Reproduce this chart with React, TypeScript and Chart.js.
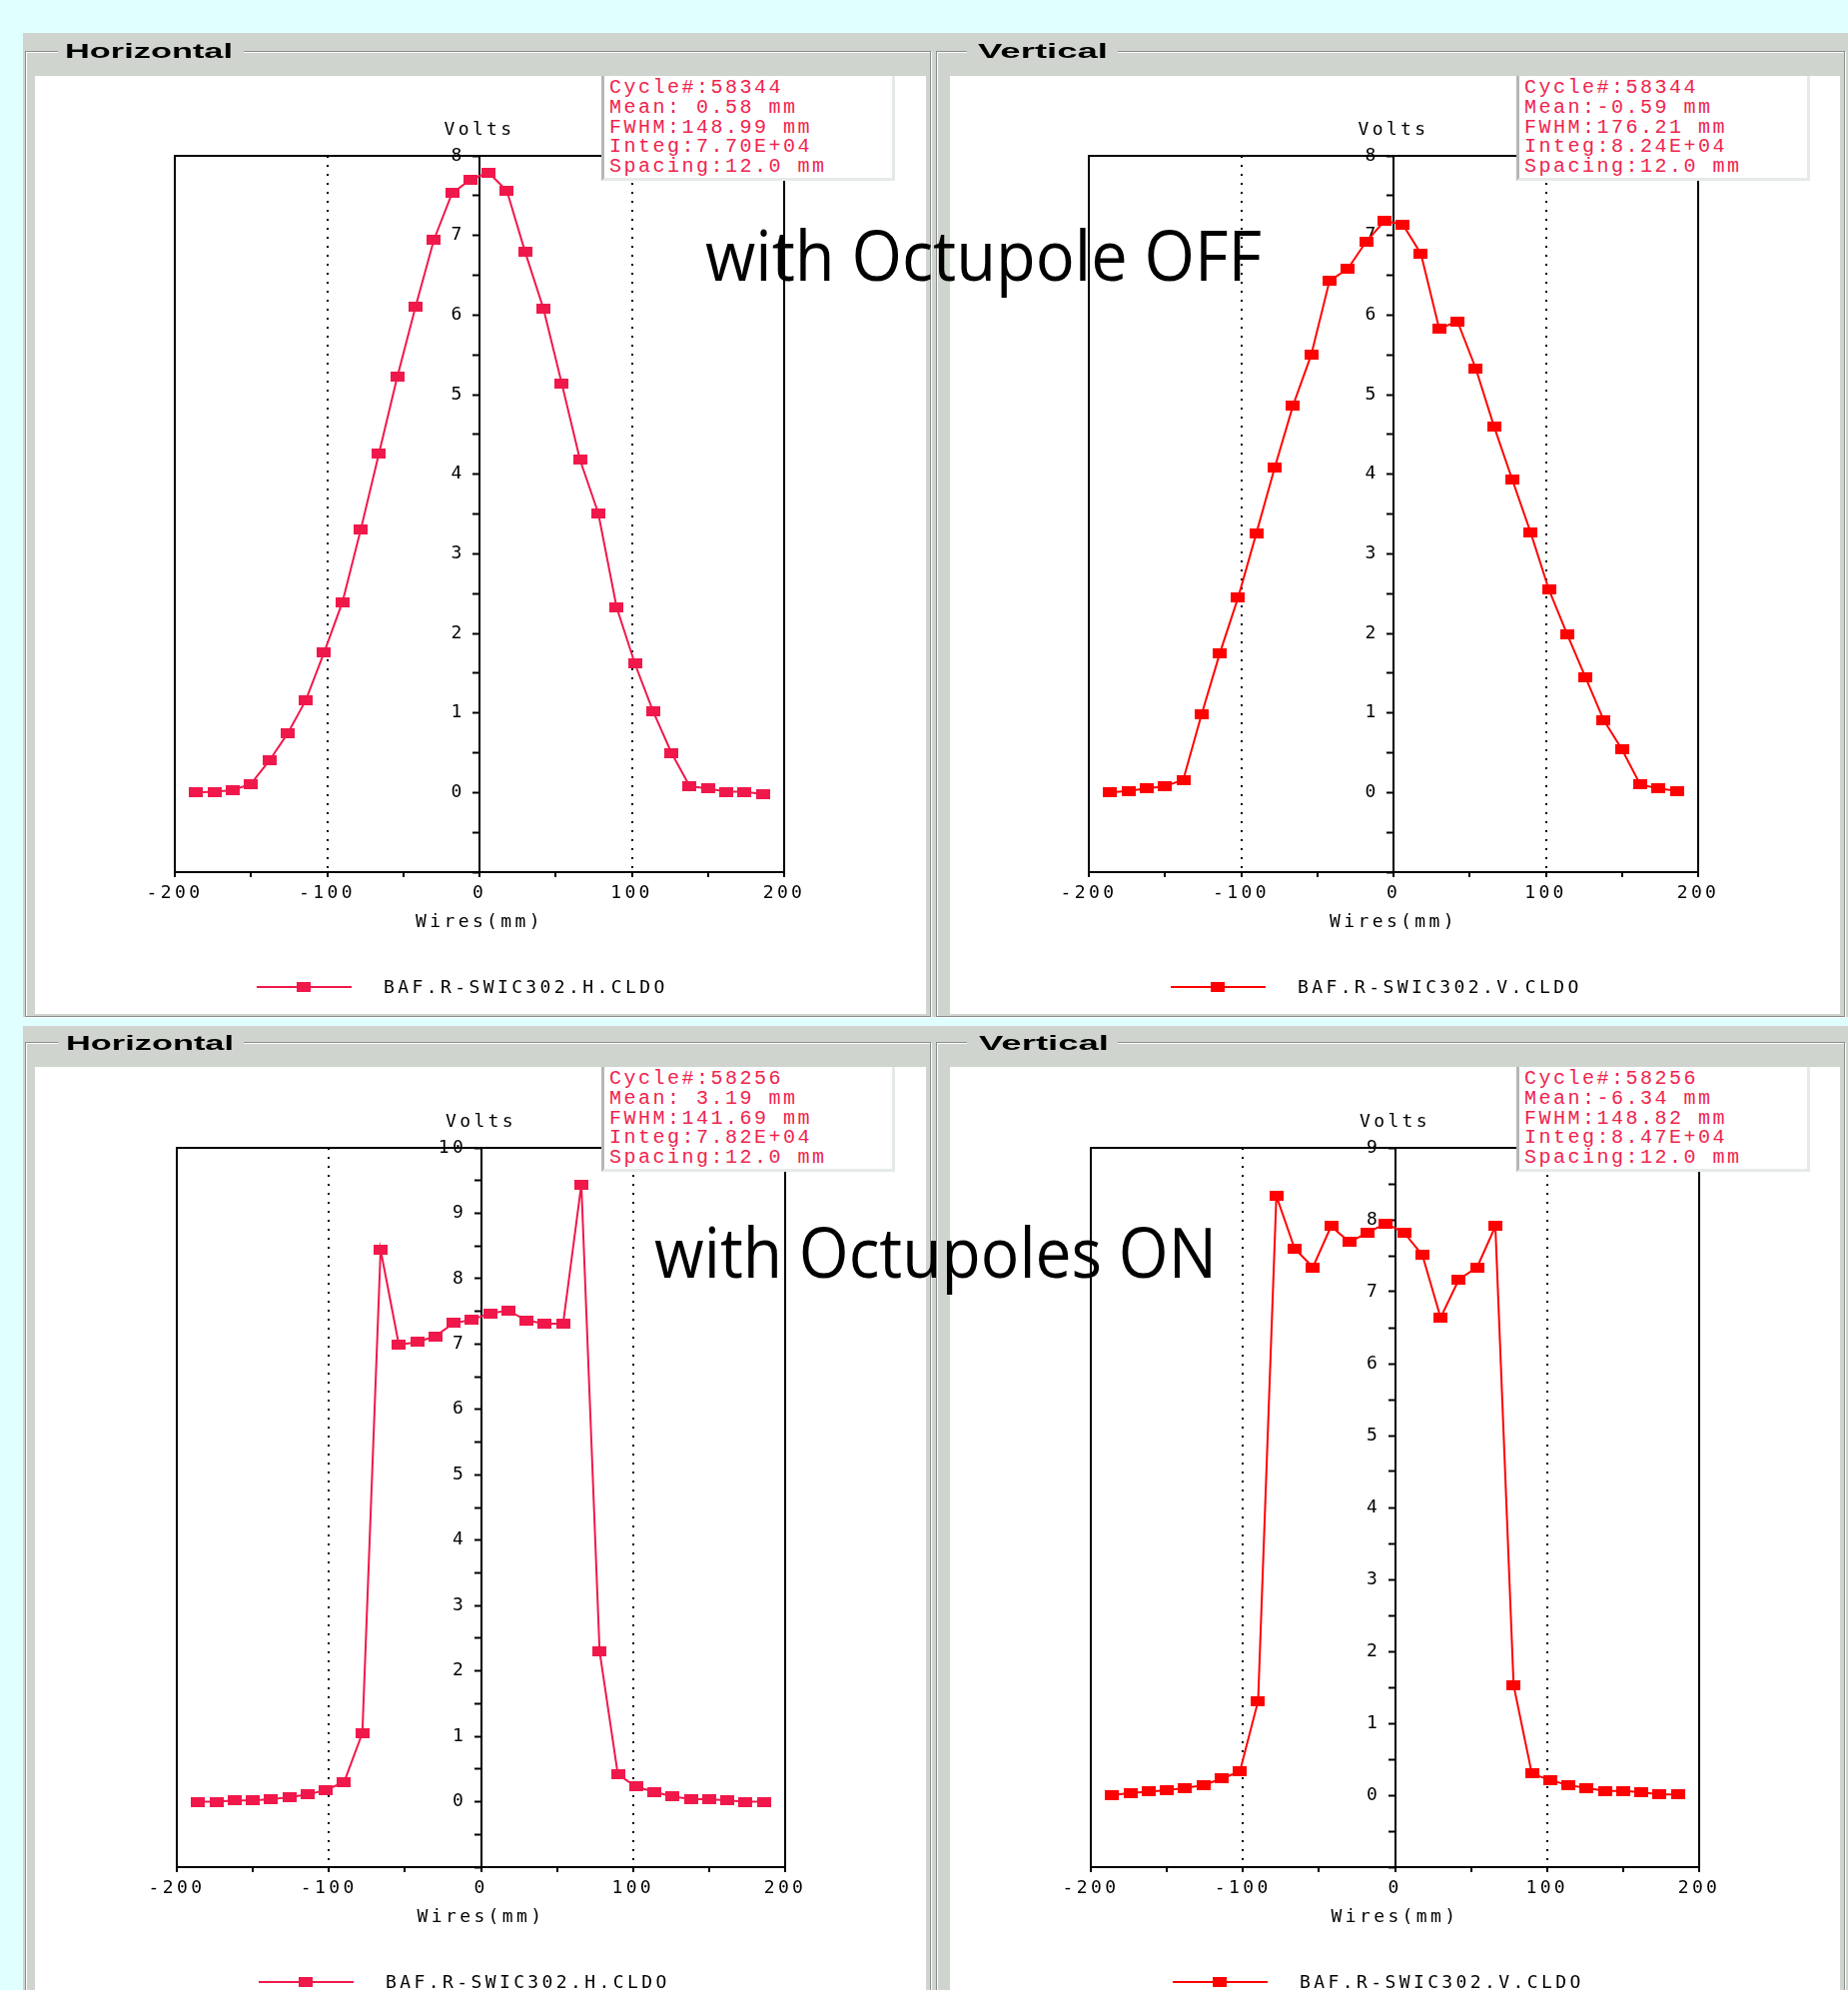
import React, { useEffect, useRef } from 'react';
import { Chart, registerables } from 'chart.js';

Chart.register(...registerables);

// ---------- data ----------
const WIRE_POS = [
  -186, -174, -162, -150, -138, -126, -114, -102, -90, -78, -66, -54, -42, -30, -18, -6,
  6, 18, 30, 42, 54, 66, 78, 90, 102, 114, 126, 138, 150, 162, 174, 186,
];

const H_OFF = [
  0.0, 0.01, 0.03, 0.11, 0.4, 0.74, 1.16, 1.76, 2.39, 3.3, 4.26, 5.22, 6.1, 6.94, 7.53, 7.7,
  7.79, 7.56, 6.79, 6.08, 5.14, 4.18, 3.51, 2.33, 1.62, 1.02, 0.5, 0.08, 0.05, 0.01, 0.01, -0.02,
];
const V_OFF = [
  0.0, 0.02, 0.05, 0.08, 0.16, 0.98, 1.75, 2.45, 3.26, 4.08, 4.86, 5.5, 6.43, 6.58, 6.92, 7.18,
  7.14, 6.77, 5.83, 5.92, 5.33, 4.6, 3.93, 3.27, 2.55, 1.99, 1.45, 0.91, 0.54, 0.1, 0.05, 0.02,
];
const H_ON = [
  0.0, 0.0, 0.02, 0.02, 0.04, 0.07, 0.11, 0.18, 0.3, 1.05, 8.44, 6.99, 7.03, 7.12, 7.32, 7.37,
  7.47, 7.51, 7.36, 7.31, 7.31, 9.44, 2.3, 0.42, 0.23, 0.15, 0.08, 0.04, 0.04, 0.02, 0.0, 0.0,
];
const V_ON = [
  0.0, 0.03, 0.05, 0.07, 0.1, 0.14, 0.23, 0.33, 1.31, 8.33, 7.6, 7.34, 7.91, 7.69, 7.82, 7.95,
  7.82, 7.51, 6.64, 7.17, 7.34, 7.91, 1.53, 0.3, 0.21, 0.14, 0.1, 0.06, 0.06, 0.04, 0.01, 0.01,
];

const X_MIN = -200;
const X_MAX = 200;
const X_STEP = 50;
const X_LABEL_EVERY = 100;
const Y_MIN = -1;
const Y_STEP = 0.5;
const Y_MAX_H_OFF = 8;
const Y_MAX_V_OFF = 8;
const Y_MAX_H_ON = 10;
const Y_MAX_V_ON = 9;
const DOTTED_AT = [-100, 100];

const STATS_H_OFF = ['Cycle#:58344', 'Mean: 0.58 mm', 'FWHM:148.99 mm', 'Integ:7.70E+04', 'Spacing:12.0 mm'];
const STATS_V_OFF = ['Cycle#:58344', 'Mean:-0.59 mm', 'FWHM:176.21 mm', 'Integ:8.24E+04', 'Spacing:12.0 mm'];
const STATS_H_ON = ['Cycle#:58256', 'Mean: 3.19 mm', 'FWHM:141.69 mm', 'Integ:7.82E+04', 'Spacing:12.0 mm'];
const STATS_V_ON = ['Cycle#:58256', 'Mean:-6.34 mm', 'FWHM:148.82 mm', 'Integ:8.47E+04', 'Spacing:12.0 mm'];

const LEGEND_H = 'BAF.R-SWIC302.H.CLDO';
const LEGEND_V = 'BAF.R-SWIC302.V.CLDO';
const Y_TITLE = 'Volts';
const X_TITLE = 'Wires(mm)';

// ---------- styles ----------
const COLOR_H = '#F0184A';
const COLOR_V = '#FF0000';
const STAT_COLOR = '#F0244E';
const BG = '#E0FFFF';
const GRAY = '#D0D4CE';
const MONO = '"DejaVu Sans Mono", "Liberation Mono", monospace';
const STAT_MONO = '"Liberation Mono", "DejaVu Sans Mono", monospace';
const LS = '3.4px';
const TICK_FONT = { family: MONO, size: 18 };

function makeMarker(color: string) {
  const c = document.createElement('canvas');
  c.width = 14;
  c.height = 10;
  const g = c.getContext('2d')!;
  g.fillStyle = color;
  g.fillRect(0, 0, 14, 10);
  return c;
}

function decorPlugin(color: string, legendText: string, marker: HTMLCanvasElement) {
  return {
    id: 'decor',
    beforeUpdate(chart: any) {
      chart.ctx.letterSpacing = LS;
    },
    beforeDraw(chart: any) {
      chart.ctx.letterSpacing = LS;
    },
    afterDraw(chart: any) {
      const { ctx, chartArea: a } = chart;
      const x0 = chart.scales.x.getPixelForValue(0);
      ctx.save();
      ctx.letterSpacing = LS;
      ctx.strokeStyle = '#000';
      ctx.lineWidth = 2;
      ctx.strokeRect(a.left, a.top, a.right - a.left, a.bottom - a.top);
      ctx.font = `18px ${MONO}`;
      ctx.fillStyle = '#000';
      ctx.textAlign = 'center';
      ctx.textBaseline = 'middle';
      ctx.fillText(Y_TITLE, x0, a.top - 26);
      const ly = a.bottom + 115;
      ctx.strokeStyle = color;
      ctx.lineWidth = 2;
      ctx.beginPath();
      ctx.moveTo(a.left + 82, ly);
      ctx.lineTo(a.left + 177, ly);
      ctx.stroke();
      ctx.drawImage(marker, a.left + 129 - 7, ly - 5);
      ctx.textAlign = 'left';
      ctx.fillText(legendText, a.left + 209, ly + 1);
      ctx.restore();
    },
  };
}

type PanelCfg = {
  left: number;
  top: number;
  w: number;
  h: number;
  padL: number;
  padR: number;
  padT: number;
  values: number[];
  yMax: number;
  color: string;
  legend: string;
};

function ChartPanel({ cfg }: { cfg: PanelCfg }) {
  const ref = useRef<HTMLCanvasElement>(null);
  useEffect(() => {
    const marker = makeMarker(cfg.color);
    const chart = new Chart(ref.current!, {
      type: 'line',
      data: {
        datasets: [
          {
            label: cfg.legend,
            data: WIRE_POS.map((x, i) => ({ x, y: cfg.values[i] })),
            borderColor: cfg.color,
            backgroundColor: cfg.color,
            borderWidth: 2,
            tension: 0,
            fill: false,
            pointStyle: marker as any,
            pointRadius: 5,
          },
        ],
      },
      options: {
        responsive: false,
        animation: false,
        devicePixelRatio: 1,
        events: [],
        layout: { padding: { left: cfg.padL, right: cfg.padR, top: cfg.padT, bottom: 0 } },
        plugins: { legend: { display: false }, tooltip: { enabled: false } },
        scales: {
          x: {
            type: 'linear',
            min: X_MIN,
            max: X_MAX,
            afterFit: (s: any) => {
              s.height = 142;
            },
            ticks: {
              stepSize: X_STEP,
              autoSkip: false,
              maxRotation: 0,
              padding: 6,
              color: '#000',
              font: TICK_FONT,
              callback: (v: any) => (Number(v) % X_LABEL_EVERY === 0 ? String(v) : ''),
            },
            grid: {
              color: (c: any) =>
                c.tick && DOTTED_AT.includes(c.tick.value) ? '#000' : 'rgba(0,0,0,0)',
              lineWidth: 2,
              drawOnChartArea: true,
              drawTicks: true,
              tickColor: '#000',
              tickLength: 5,
              tickWidth: 2,
            },
            border: { display: true, color: '#000', width: 2, dash: [2, 7] },
            title: {
              display: true,
              text: X_TITLE,
              color: '#000',
              font: TICK_FONT,
              padding: { top: 0, bottom: 81 },
            },
          },
          y: {
            type: 'linear',
            position: { x: 0 } as any,
            min: Y_MIN,
            max: cfg.yMax,
            ticks: {
              stepSize: Y_STEP,
              maxTicksLimit: 100,
              autoSkip: false,
              padding: 8,
              color: '#000',
              font: TICK_FONT,
              // trailing space keeps the label clear of the centred axis line
              callback: (v: any) =>
                Number.isInteger(Number(v)) && Number(v) >= 0 ? String(v) + ' ' : '',
            },
            grid: {
              drawOnChartArea: false,
              drawTicks: true,
              tickColor: '#000',
              tickLength: 6,
              tickWidth: 2,
            },
            border: { display: true, color: '#000', width: 2 },
          },
        },
      } as any,
      plugins: [decorPlugin(cfg.color, cfg.legend, marker)],
    });
    return () => chart.destroy();
  }, []);
  return (
    <canvas
      ref={ref}
      width={cfg.w}
      height={cfg.h}
      style={{ position: 'absolute', left: cfg.left, top: cfg.top, width: cfg.w, height: cfg.h }}
    />
  );
}

function StatsBox({ left, top, lines }: { left: number; top: number; lines: string[] }) {
  return (
    <div
      style={{
        position: 'absolute',
        left,
        top,
        width: 294,
        height: 105,
        boxSizing: 'border-box',
        background: '#fff',
        borderLeft: '3px solid #b4b8b4',
        borderRight: '3px solid #e6eae6',
        borderBottom: '3px solid #e6eae6',
        padding: '2px 0 0 5px',
        fontFamily: STAT_MONO,
        fontSize: 20,
        letterSpacing: '2.5px',
        lineHeight: '19.8px',
        color: STAT_COLOR,
        whiteSpace: 'pre',
        overflow: 'hidden',
      }}
    >
      {lines.map((l, i) => (
        <div key={i}>{l}</div>
      ))}
    </div>
  );
}

function Frame({ x, y, w, h }: { x: number; y: number; w: number; h: number }) {
  return (
    <div
      style={{
        position: 'absolute',
        left: x,
        top: y,
        width: w,
        height: h,
        boxSizing: 'border-box',
        border: '1px solid #8a8e8a',
        boxShadow: 'inset 1px 1px 0 #ffffff, 1px 1px 0 #ffffff',
      }}
    />
  );
}

function White({ x, y, w, h }: { x: number; y: number; w: number; h: number }) {
  return <div style={{ position: 'absolute', left: x, top: y, width: w, height: h, background: '#fff' }} />;
}

const PANELS: { cfg: PanelCfg; stats: string[] }[] = [
  {
    cfg: { left: 35, top: 76, w: 892, h: 939, padL: 140, padR: 142, padT: 80, values: H_OFF, yMax: Y_MAX_H_OFF, color: COLOR_H, legend: LEGEND_H },
    stats: STATS_H_OFF,
  },
  {
    cfg: { left: 951, top: 76, w: 891, h: 939, padL: 139, padR: 142, padT: 80, values: V_OFF, yMax: Y_MAX_V_OFF, color: COLOR_V, legend: LEGEND_V },
    stats: STATS_V_OFF,
  },
  {
    cfg: { left: 35, top: 1068, w: 892, h: 943, padL: 142, padR: 141, padT: 81, values: H_ON, yMax: Y_MAX_H_ON, color: COLOR_H, legend: LEGEND_H },
    stats: STATS_H_ON,
  },
  {
    cfg: { left: 951, top: 1068, w: 891, h: 943, padL: 141, padR: 141, padT: 81, values: V_ON, yMax: Y_MAX_V_ON, color: COLOR_V, legend: LEGEND_V },
    stats: STATS_V_ON,
  },
];

export default function App() {
  return (
    <div
      style={{
        position: 'absolute',
        left: 0,
        top: 0,
        width: 1850,
        height: 1992,
        overflow: 'hidden',
        background: BG,
      }}
    >
      <div style={{ position: 'absolute', left: 23, top: 33, width: 1827, height: 985, background: GRAY }} />
      <div style={{ position: 'absolute', left: 23, top: 1027, width: 1827, height: 965, background: GRAY }} />
      <Frame x={25} y={51} w={907} h={967} />
      <Frame x={937} y={51} w={910} h={967} />
      <Frame x={25} y={1043} w={907} h={1000} />
      <Frame x={937} y={1043} w={910} h={1000} />
      <White x={35} y={76} w={892} h={939} />
      <White x={951} y={76} w={891} h={939} />
      <White x={35} y={1068} w={892} h={924} />
      <White x={951} y={1068} w={891} h={924} />
      {PANELS.map((p, i) => (
        <ChartPanel key={i} cfg={p.cfg} />
      ))}
      {PANELS.map((p, i) => (
        <StatsBox key={i} left={p.cfg.left + 567} top={p.cfg.top} lines={p.stats} />
      ))}
      <svg
        width={1850}
        height={1992}
        style={{ position: 'absolute', left: 0, top: 0, pointerEvents: 'none' }}
      >
        <rect x={58} y={38} width={186} height={26} fill={GRAY} />
        <rect x={968} y={38} width={151} height={26} fill={GRAY} />
        <rect x={58} y={1030} width={186} height={26} fill={GRAY} />
        <rect x={968} y={1030} width={151} height={26} fill={GRAY} />
        <g fontFamily='"Liberation Sans", Arial, sans-serif' fontWeight="bold" fontSize={21} fill="#000">
          <text x={65} y={58} textLength={168} lengthAdjust="spacingAndGlyphs">Horizontal</text>
          <text x={979} y={58} textLength={130} lengthAdjust="spacingAndGlyphs">Vertical</text>
          <text x={66} y={1051} textLength={168} lengthAdjust="spacingAndGlyphs">Horizontal</text>
          <text x={980} y={1051} textLength={130} lengthAdjust="spacingAndGlyphs">Vertical</text>
        </g>
        <g fontFamily='"Open Sans", "Noto Sans", sans-serif' fontWeight={500} fontSize={70} fill="#000">
          <text x={706} y={281} textLength={557} lengthAdjust="spacingAndGlyphs">with Octupole OFF</text>
          <text x={655} y={1279} textLength={563} lengthAdjust="spacingAndGlyphs">with Octupoles ON</text>
        </g>
      </svg>
    </div>
  );
}
